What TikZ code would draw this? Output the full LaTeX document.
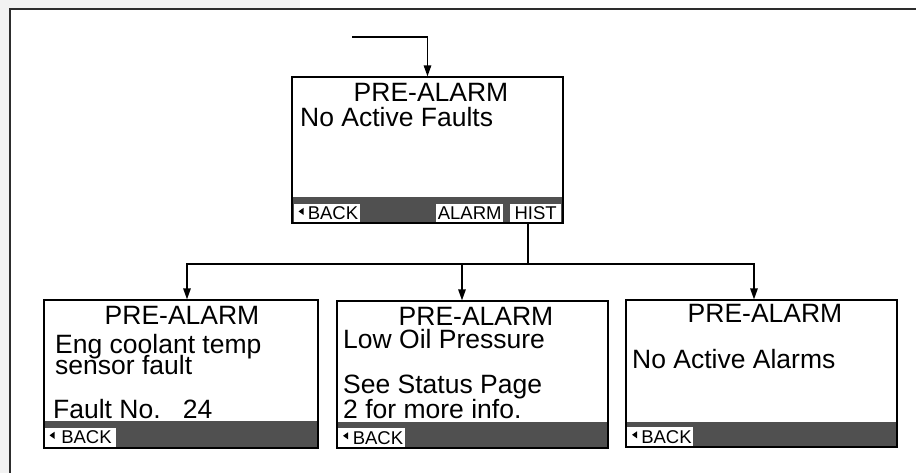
\documentclass[tikz,border=0pt]{standalone}
\usepackage{fontspec}
\setmainfont{Liberation Sans}
\usetikzlibrary{arrows.meta,calc}
\definecolor{barc}{RGB}{80,80,80}
\definecolor{framec}{RGB}{45,45,45}
\definecolor{bgc}{RGB}{242,242,242}
\newcommand\bigtxt{\fontsize{26.5}{30}\selectfont}
\newcommand\btntxt{\fontsize{18.5}{20}\selectfont}
\newcommand\backtri[1]{\fill ($(#1.base west)+(5,-8.5)$) -- ++(5,-3.5) -- ++(0,7) -- cycle;}
\begin{document}
\begin{tikzpicture}[x=1pt,y=-1pt,
 screen/.style={draw=black, line width=1.3pt, inner sep=0pt,
   path picture={\fill[barc] (path picture bounding box.south west) rectangle ([yshift=#1]path picture bounding box.south east);}},
 btn/.style={fill=white, inner xsep=1.5pt, inner ysep=3pt, text height=13.3pt, text depth=0pt, font=\btntxt, anchor=south west},
 txt/.style={inner sep=0pt, font=\bigtxt, anchor=base west},
 ttl/.style={inner sep=0pt, font=\bigtxt, anchor=base},
 conn/.style={line width=1.4pt},
 arr/.style={conn, -{Triangle[length=11pt,width=7.5pt]}}
]
\useasboundingbox (0,0) rectangle (916,473);
\clip (0,0) rectangle (916,473);
\fill[white] (0,0) rectangle (916,473);
\fill[bgc] (0,0) rectangle (9,473);
\fill[bgc] (0,0) rectangle (300,8);
\draw[framec, line width=2pt] (10,9) rectangle (960,520);

% screens
\node[screen=26pt, minimum width=271pt, minimum height=146pt] (top) at (427.5,150) {};
\node[screen=27pt, minimum width=274pt, minimum height=148pt] (left) at (181,374) {};
\node[screen=26pt, minimum width=271pt, minimum height=147pt] (mid) at (472.5,374.5) {};
\node[screen=25pt, minimum width=271pt, minimum height=147pt] (right) at (761.5,373.5) {};

% top screen texts
\node[ttl] (t1) at (431,102) {PRE-ALARM};
\node[txt] (t2) at (300,127) {No Active Faults};
\node[btn, inner ysep=2.4pt, minimum width=66pt] (tback) at (293.5,222.5) {\hspace{12.5pt}BACK};
\backtri{tback}
\node[btn, inner ysep=2.4pt, minimum width=67pt] (talarm) at (436,222.5) {ALARM};
\node[btn, inner ysep=2.4pt, minimum width=51pt] (thist) at (510,222.5) {HIST};

% left screen texts
\node[ttl] (l1) at (182,324) {PRE-ALARM};
\node[txt] (l2) at (55,353) {Eng coolant temp};
\node[txt] (l3) at (55,374) {sensor fault};
\node[txt] (l4) at (53,418) {Fault No.~~~24};
\node[btn, minimum width=71pt] (lback) at (44.5,447) {\hspace{12.5pt}BACK};
\backtri{lback}

% middle screen texts
\node[ttl] (m1) at (476,325) {PRE-ALARM};
\node[txt] (m2) at (343,348) {Low Oil Pressure};
\node[txt] (m3) at (343,393) {See Status Page};
\node[txt] (m4) at (343,418) {2 for more info.};
\node[btn, minimum width=67pt] (mback) at (338,447.5) {\hspace{12.5pt}BACK};
\backtri{mback}

% right screen texts
\node[ttl] (r1) at (765,323) {PRE-ALARM};
\node[txt] (r2) at (632,368) {No Active Alarms};
\node[btn, minimum width=66pt] (rback) at (627,446.5) {\hspace{12.5pt}BACK};
\backtri{rback}

% connectors
\coordinate (in) at (352,37);
\draw[arr] (in) -| (top.north);
\coordinate (j) at (528,264);
\coordinate (jl) at (187,264);
\coordinate (jm) at (462,264);
\coordinate (jr) at (754,264);
\draw[conn] (top.south -| j) -- (j);
\draw[arr] (j) -| (jl |- left.north);
\draw[arr] (j) -| (jr |- right.north);
\draw[arr] (jm) -- (jm |- mid.north);
\end{tikzpicture}
\end{document}
